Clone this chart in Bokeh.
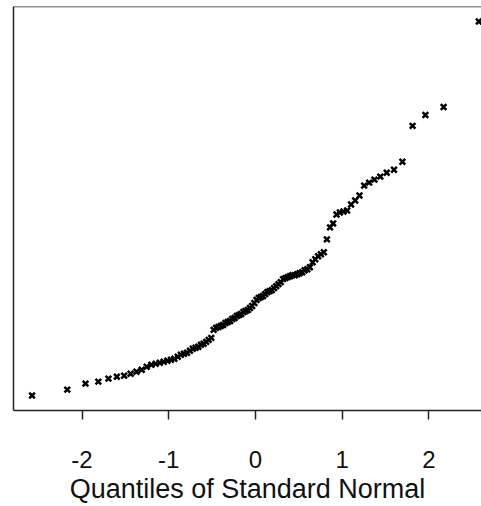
from bokeh.plotting import figure
from bokeh.models import Span, FixedTicker
from bokeh.embed import file_html
from bokeh.resources import INLINE

# Theoretical quantiles of the standard normal (n = 100)
theoretical_q = [
    -2.576, -2.170, -1.960, -1.812, -1.695, -1.598, -1.514, -1.440, -1.372, -1.311,
    -1.254, -1.200, -1.150, -1.103, -1.058, -1.015, -0.974, -0.935, -0.896, -0.860,
    -0.824, -0.789, -0.755, -0.722, -0.690, -0.659, -0.628, -0.598, -0.568, -0.539,
    -0.510, -0.482, -0.454, -0.426, -0.399, -0.372, -0.345, -0.319, -0.292, -0.266,
    -0.240, -0.215, -0.189, -0.164, -0.138, -0.113, -0.088, -0.063, -0.038, -0.013,
    0.013, 0.038, 0.063, 0.088, 0.113, 0.138, 0.164, 0.189, 0.215, 0.240,
    0.266, 0.292, 0.319, 0.345, 0.372, 0.399, 0.426, 0.454, 0.482, 0.510,
    0.539, 0.568, 0.598, 0.628, 0.659, 0.690, 0.722, 0.755, 0.789, 0.824,
    0.860, 0.896, 0.935, 0.974, 1.015, 1.058, 1.103, 1.150, 1.200, 1.254,
    1.311, 1.372, 1.440, 1.514, 1.598, 1.695, 1.812, 1.960, 2.170, 2.576,
]

# Ordered sample values (arbitrary units)
sample_q = [
    15, 21, 27, 29, 32, 34, 35, 37, 39, 41,
    44, 46, 47, 48, 49, 50, 51, 52, 54, 56,
    57, 58, 60, 62, 63, 64, 66, 67, 69, 71,
    73, 81, 83, 84, 85, 86, 88, 89, 90, 92,
    93, 95, 96, 97, 99, 100, 101, 103, 105, 108,
    111, 113, 114, 115, 117, 119, 120, 121, 123, 125,
    127, 129, 132, 133, 134, 135, 136, 136, 137, 138,
    139, 141, 142, 144, 149, 152, 155, 157, 159, 172,
    184, 188, 197, 199, 200, 201, 207, 211, 216, 226,
    229, 232, 235, 239, 242, 250, 286, 297, 305, 391,
]

x_ticks = [-2, -1, 0, 1, 2]
x_tick_labels = {-2: "-2", -1: "-1", 0: "0", 1: "1", 2: "2"}
x_label = "Quantiles of Standard Normal"

x_lo, x_hi = -2.79, 2.607
y_lo, y_hi = 0, 406

p = figure(width=481, height=506, output_backend="svg", toolbar_location=None,
           x_range=(x_lo, x_hi), y_range=(y_lo, y_hi),
           min_border_left=13, min_border_right=0, min_border_top=6, min_border_bottom=94)
p.grid.visible = False
p.outline_line_color = None
p.background_fill_color = "white"
p.border_fill_color = "white"

# left frame line: axis line only
yax = p.yaxis[0]
yax.ticker = FixedTicker(ticks=[])
yax.axis_line_color = "#222222"
yax.axis_line_width = 1.5
yax.major_tick_line_color = None
yax.minor_tick_line_color = None
yax.major_label_standoff = 0

ax = p.xaxis[0]
ax.ticker = FixedTicker(ticks=x_ticks)
ax.major_label_overrides = x_tick_labels
ax.axis_line_color = "#222222"
ax.axis_line_width = 1.5
ax.major_tick_line_color = "#222222"
ax.major_tick_line_width = 1.5
ax.major_tick_out = 9
ax.major_tick_in = 0
ax.minor_tick_line_color = None
ax.major_label_standoff = 31
ax.major_label_text_font = "Liberation Sans"
ax.major_label_text_font_size = "24px"
ax.major_label_text_color = "#111111"
ax.axis_label = x_label
ax.axis_label_text_font = "Liberation Sans"
ax.axis_label_text_font_size = "27px"
ax.axis_label_text_font_style = "normal"
ax.axis_label_text_color = "#111111"
ax.axis_label_standoff = 3

p.add_layout(Span(location=y_hi, dimension="width", line_color="#222222", line_width=1.5))

p.scatter(theoretical_q, sample_q, marker="x", size=8, line_width=2.5, color="black")

open("out.html", "w").write(file_html(p, INLINE))
